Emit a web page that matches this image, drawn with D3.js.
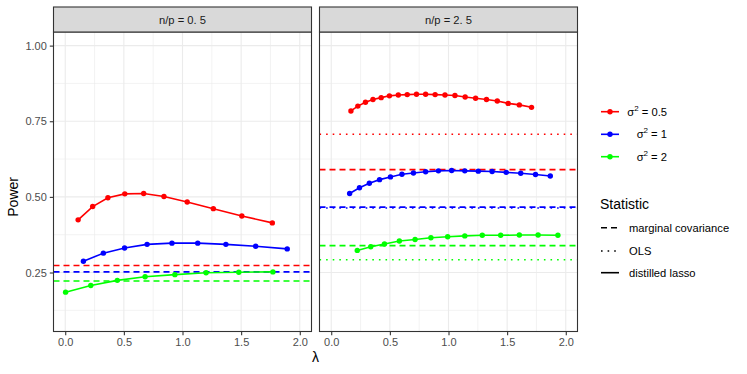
<!DOCTYPE html>
<html>
<head>
<meta charset="utf-8">
<script src="https://cdn.jsdelivr.net/npm/d3@7"></script>
<style>
    body { margin: 0; background: #fff; }
    text { font-family: "Liberation Sans", Arial, sans-serif; }
</style>
</head>
<body>
<svg id="chart" width="747" height="374"></svg>
<script>
'use strict';

// facet labels and legend entries
var panelLabels = ['n/p = 0. 5', 'n/p = 2. 5'];
var sigmaLabels = ['0.5', '1', '2'];
var statLabels = ['marginal covariance', 'OLS', 'distilled lasso'];
var xTicks = [0, 0.5, 1, 1.5, 2];
var yTicks = [0.25, 0.5, 0.75, 1];

// n/p = 0.5, distilled lasso
var lamLeftRed = [0.11, 0.234, 0.364, 0.508, 0.669, 0.842, 1.04, 1.263, 1.506, 1.766];
var powLeftRed = [0.424, 0.468, 0.497, 0.51, 0.511, 0.501, 0.483, 0.461, 0.437, 0.414];
var lamLeftBlue = [0.155, 0.325, 0.506, 0.698, 0.91, 1.13, 1.37, 1.624, 1.893];
var powLeftBlue = [0.287, 0.314, 0.331, 0.343, 0.347, 0.347, 0.343, 0.337, 0.328];
var lamLeftGreen = [0.003, 0.218, 0.444, 0.681, 0.935, 1.201, 1.48, 1.771];
var powLeftGreen = [0.185, 0.207, 0.224, 0.236, 0.243, 0.249, 0.251, 0.252];

// n/p = 2.5, distilled lasso
var lamRightRed = [0.168, 0.227, 0.292, 0.356, 0.426, 0.496, 0.572, 0.648, 0.727, 0.805,
    0.886, 0.97, 1.055, 1.142, 1.231, 1.324, 1.416, 1.509, 1.604, 1.708];
var powRightRed = [0.784, 0.8, 0.813, 0.822, 0.828, 0.834, 0.837, 0.838, 0.839, 0.839,
    0.838, 0.837, 0.835, 0.83, 0.826, 0.822, 0.817, 0.809, 0.804, 0.796];
var lamRightBlue = [0.157, 0.241, 0.325, 0.412, 0.505, 0.603, 0.701, 0.805, 0.914, 1.027,
    1.139, 1.254, 1.372, 1.492, 1.616, 1.742, 1.868];
var powRightBlue = [0.511, 0.53, 0.545, 0.557, 0.566, 0.575, 0.579, 0.583, 0.586, 0.587,
    0.586, 0.585, 0.584, 0.581, 0.578, 0.574, 0.569];
var lamRightGreen = [0.222, 0.337, 0.454, 0.581, 0.715, 0.85, 0.993, 1.139, 1.288, 1.445,
    1.604, 1.764, 1.933];
var powRightGreen = [0.323, 0.335, 0.344, 0.354, 0.359, 0.365, 0.368, 0.371, 0.373, 0.373,
    0.374, 0.374, 0.373];

// reference levels (marginal covariance, OLS) per sigma, per panel; null = not shown
var margLeft = [0.273, 0.252, 0.222];
var olsLeft = [null, null, null];
var margRight = [0.59, 0.466, 0.339];
var olsRight = [0.707, 0.463, 0.292];

var COLORS = ['#ff0000', '#0000ff', '#00ff00'];
var DASH = { marg: '6,4', ols: '1.6,5', lasso: null };
var PANEL = { TOP: 32, BOTTOM: 331.5, WIDTH: 258, LEFTS: [53.5, 319.5], STRIP_TOP: 7 };

var svg = d3.select('#chart');

var y = d3.scaleLinear().domain([0.055, 1.045]).range([PANEL.BOTTOM, PANEL.TOP]);

function zip(xs, ys) {
    return xs.map(function (v, i) { return { x: v, y: ys[i] }; });
}

var panels = [
    {
        label: panelLabels[0],
        series: [zip(lamLeftRed, powLeftRed), zip(lamLeftBlue, powLeftBlue), zip(lamLeftGreen, powLeftGreen)],
        marg: margLeft,
        ols: olsLeft
    },
    {
        label: panelLabels[1],
        series: [zip(lamRightRed, powRightRed), zip(lamRightBlue, powRightBlue), zip(lamRightGreen, powRightGreen)],
        marg: margRight,
        ols: olsRight
    }
];

function drawPanel(panel, idx) {
    var left = PANEL.LEFTS[idx];
    var x = d3.scaleLinear().domain([-0.1, 2.1]).range([left, left + PANEL.WIDTH]);
    var g = svg.append('g');

    g.append('rect')
        .attr('x', left).attr('y', PANEL.TOP)
        .attr('width', PANEL.WIDTH).attr('height', PANEL.BOTTOM - PANEL.TOP)
        .attr('fill', '#fff');

    // minor grid
    [0.125, 0.375, 0.625, 0.875].forEach(function (v) {
        g.append('line').attr('x1', left).attr('x2', left + PANEL.WIDTH)
            .attr('y1', y(v)).attr('y2', y(v))
            .attr('stroke', '#ebebeb').attr('stroke-width', 0.6);
    });
    [0.25, 0.75, 1.25, 1.75].forEach(function (v) {
        g.append('line').attr('y1', PANEL.TOP).attr('y2', PANEL.BOTTOM)
            .attr('x1', x(v)).attr('x2', x(v))
            .attr('stroke', '#ebebeb').attr('stroke-width', 0.6);
    });
    // major grid
    yTicks.forEach(function (v) {
        g.append('line').attr('x1', left).attr('x2', left + PANEL.WIDTH)
            .attr('y1', y(v)).attr('y2', y(v))
            .attr('stroke', '#ebebeb').attr('stroke-width', 1.1);
    });
    xTicks.forEach(function (v) {
        g.append('line').attr('y1', PANEL.TOP).attr('y2', PANEL.BOTTOM)
            .attr('x1', x(v)).attr('x2', x(v))
            .attr('stroke', '#ebebeb').attr('stroke-width', 1.1);
    });

    // horizontal reference lines
    [['marg', panel.marg], ['ols', panel.ols]].forEach(function (pair) {
        pair[1].forEach(function (v, i) {
            if (v === null) {
                return;
            }
            g.append('line')
                .attr('x1', left).attr('x2', left + PANEL.WIDTH)
                .attr('y1', y(v)).attr('y2', y(v))
                .attr('stroke', COLORS[i]).attr('stroke-width', 1.6)
                .attr('stroke-dasharray', DASH[pair[0]]);
        });
    });

    var line = d3.line().x(function (d) { return x(d.x); }).y(function (d) { return y(d.y); });

    panel.series.forEach(function (s, i) {
        g.append('path').datum(s)
            .attr('d', line)
            .attr('fill', 'none')
            .attr('stroke', COLORS[i])
            .attr('stroke-width', 1.6);
        g.selectAll(null).data(s).enter().append('circle')
            .attr('cx', function (d) { return x(d.x); })
            .attr('cy', function (d) { return y(d.y); })
            .attr('r', 2.7)
            .attr('fill', COLORS[i]);
    });

    // border
    g.append('rect')
        .attr('x', left).attr('y', PANEL.TOP)
        .attr('width', PANEL.WIDTH).attr('height', PANEL.BOTTOM - PANEL.TOP)
        .attr('fill', 'none').attr('stroke', '#333').attr('stroke-width', 1.1);

    // strip
    g.append('rect')
        .attr('x', left).attr('y', PANEL.STRIP_TOP)
        .attr('width', PANEL.WIDTH).attr('height', PANEL.TOP - PANEL.STRIP_TOP)
        .attr('fill', '#d9d9d9').attr('stroke', '#333').attr('stroke-width', 1.1);
    g.append('text')
        .attr('x', left + PANEL.WIDTH / 2).attr('y', (PANEL.STRIP_TOP + PANEL.TOP) / 2 + 4)
        .attr('text-anchor', 'middle')
        .attr('font-size', 11.2).attr('fill', '#1a1a1a')
        .text(panel.label);

    // x axis
    var xAxis = d3.axisBottom(x).tickValues(xTicks).tickSize(3.7).tickPadding(2.5)
        .tickFormat(d3.format('.1f'));
    var ax = g.append('g').attr('transform', 'translate(0,' + PANEL.BOTTOM + ')').call(xAxis);
    ax.select('.domain').remove();
    ax.selectAll('line').attr('stroke', '#333').attr('stroke-width', 1.1);
    ax.selectAll('text').attr('font-size', 11).attr('fill', '#4d4d4d')
        .attr('font-family', '"Liberation Sans", Arial, sans-serif');

    if (idx === 0) {
        var yAxis = d3.axisLeft(y).tickValues(yTicks).tickSize(3.7).tickPadding(3)
            .tickFormat(d3.format('.2f'));
        var ay = g.append('g').attr('transform', 'translate(' + left + ',0)').call(yAxis);
        ay.select('.domain').remove();
        ay.selectAll('line').attr('stroke', '#333').attr('stroke-width', 1.1);
        ay.selectAll('text').attr('font-size', 11).attr('fill', '#4d4d4d')
            .attr('font-family', '"Liberation Sans", Arial, sans-serif');
    }
}

panels.forEach(drawPanel);

// axis titles
svg.append('text')
    .attr('transform', 'translate(18,' + y(0.5) + ') rotate(-90)')
    .attr('text-anchor', 'middle').attr('font-size', 14).attr('fill', '#000')
    .text('Power');
svg.append('text')
    .attr('x', (PANEL.LEFTS[0] + PANEL.LEFTS[1] + PANEL.WIDTH) / 2).attr('y', 362)
    .attr('text-anchor', 'middle').attr('font-size', 14).attr('fill', '#000')
    .text('λ');

// legend: sigma
var legend = svg.append('g');
var KEY = { X1: 601, X2: 619, TEXT_RIGHT: 667, TEXT_LEFT: 629 };
var sigmaY = [111.7, 134.3, 156.7];

sigmaLabels.forEach(function (lab, i) {
    legend.append('line')
        .attr('x1', KEY.X1).attr('x2', KEY.X2)
        .attr('y1', sigmaY[i]).attr('y2', sigmaY[i])
        .attr('stroke', COLORS[i]).attr('stroke-width', 1.6);
    legend.append('circle')
        .attr('cx', (KEY.X1 + KEY.X2) / 2).attr('cy', sigmaY[i]).attr('r', 2.7)
        .attr('fill', COLORS[i]);
    var t = legend.append('text')
        .attr('x', KEY.TEXT_RIGHT).attr('y', sigmaY[i] + 4)
        .attr('text-anchor', 'end').attr('font-size', 11.2).attr('fill', '#000');
    t.append('tspan').text('σ');
    t.append('tspan').attr('font-size', 8).attr('dy', -5).text('2');
    t.append('tspan').attr('dy', 5).text(' = ' + lab);
});

// legend: statistic
var statY = [227.7, 251, 272.7];
var statDash = [DASH.marg, DASH.ols, DASH.lasso];

legend.append('text')
    .attr('x', 600).attr('y', 209)
    .attr('font-size', 14).attr('fill', '#000')
    .text('Statistic');

statLabels.forEach(function (lab, i) {
    legend.append('line')
        .attr('x1', KEY.X1).attr('x2', KEY.X2)
        .attr('y1', statY[i]).attr('y2', statY[i])
        .attr('stroke', '#000').attr('stroke-width', 1.6)
        .attr('stroke-dasharray', statDash[i]);
    legend.append('text')
        .attr('x', KEY.TEXT_LEFT).attr('y', statY[i] + 4)
        .attr('font-size', 11.2).attr('fill', '#000')
        .text(lab);
});
</script>
</body>
</html>
